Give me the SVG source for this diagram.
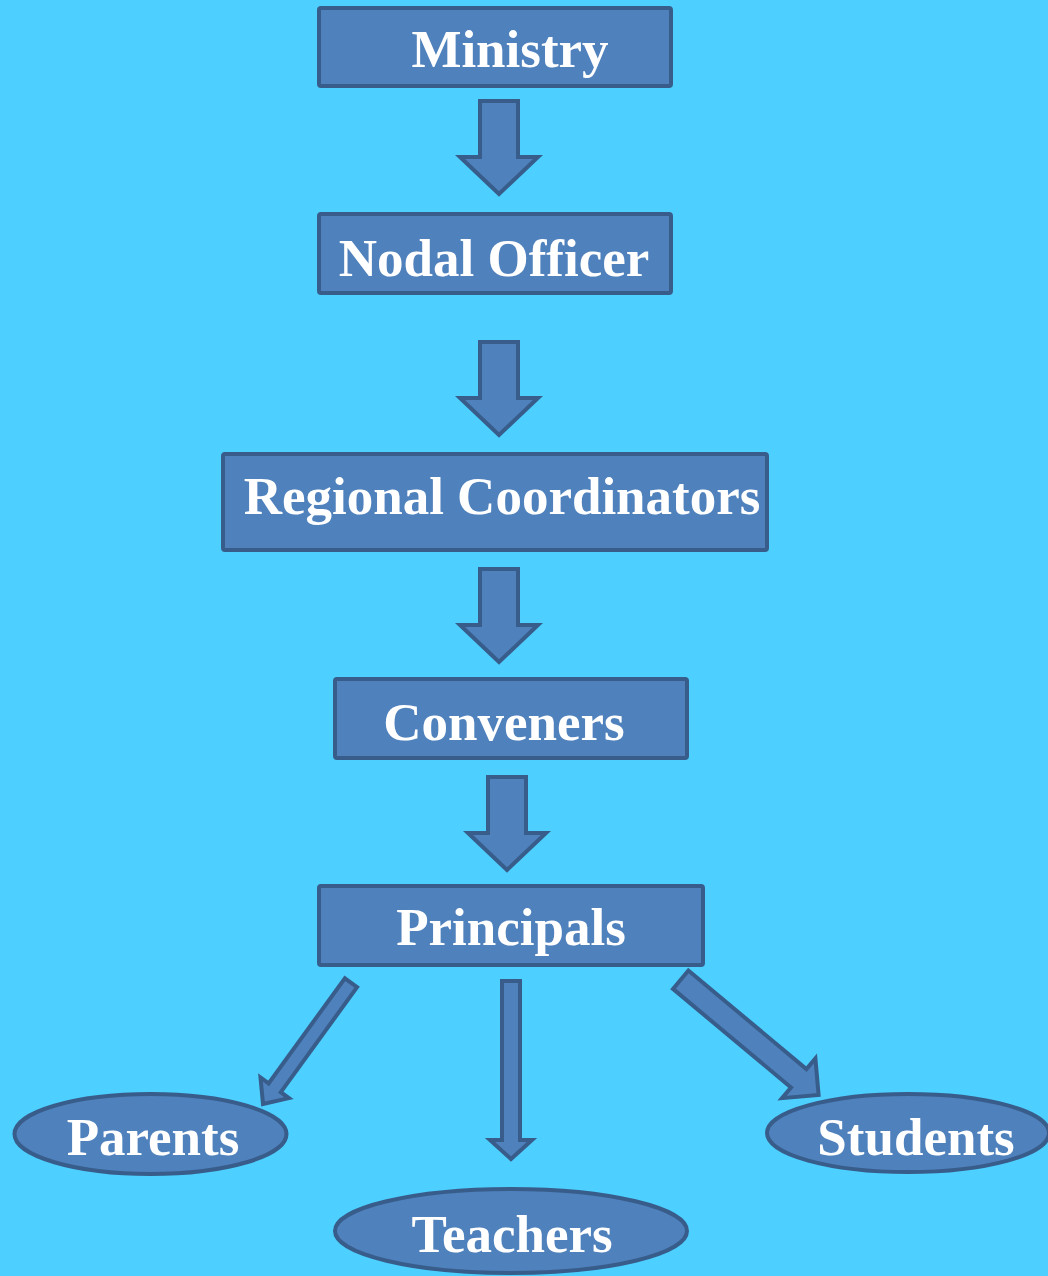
<svg xmlns="http://www.w3.org/2000/svg" width="1048" height="1276" viewBox="0 0 1048 1276">
<style>
.box{fill:#4F81BD;stroke:#385D8A;stroke-width:4}
.arr{fill:#4F81BD;stroke:#385D8A;stroke-width:4;stroke-linejoin:miter}
.lbl{font-family:"Liberation Serif","Times New Roman",serif;font-weight:bold;font-size:53px;fill:#FFFFFF;text-anchor:middle}
</style>
<defs>
<path id="down" d="M-19,0 H19 V56 H39 L0,93 L-39,56 H-19 Z"/>
</defs>
<rect x="0" y="0" width="1048" height="1276" fill="#4DCFFF"/>
<g id="connectors">
<use href="#down" class="arr" transform="translate(499,101)"/>
<use href="#down" class="arr" transform="translate(499,342)"/>
<use href="#down" class="arr" transform="translate(499,569)"/>
<use href="#down" class="arr" transform="translate(507,777)"/>
<polygon class="arr" points="357.1,987.1 280.8,1092.2 288.9,1098.1 263,1104 260.5,1077.5 268.6,1083.4 344.9,978.3"/>
<polygon class="arr" points="502,981 520,981 520,1140 532,1140 511,1159 490,1140 502,1140"/>
<polygon class="arr" points="673,988.9 791,1087.5 782,1098.2 818.6,1095 815.4,1058.4 806.4,1069.1 688.4,970.5"/>
</g>
<g id="ministry">
<rect class="box" x="319" y="8" width="352" height="78" rx="2"/>
<text class="lbl" x="510" y="67">Ministry</text>
</g>
<g id="nodal-officer">
<rect class="box" x="319" y="214" width="352" height="79" rx="2"/>
<text class="lbl" x="494" y="276">Nodal Officer</text>
</g>
<g id="regional-coordinators">
<rect class="box" x="223" y="454" width="544" height="96" rx="2"/>
<text class="lbl" x="502" y="514">Regional Coordinators</text>
</g>
<g id="conveners">
<rect class="box" x="335" y="679" width="352" height="79" rx="2"/>
<text class="lbl" x="504" y="740">Conveners</text>
</g>
<g id="principals">
<rect class="box" x="319" y="886" width="384" height="79" rx="2"/>
<text class="lbl" x="511" y="945">Principals</text>
</g>
<g id="parents">
<ellipse class="box" cx="150.5" cy="1134" rx="136" ry="40"/>
<text class="lbl" x="153" y="1155">Parents</text>
</g>
<g id="students">
<ellipse class="box" cx="908" cy="1133" rx="141" ry="39"/>
<text class="lbl" x="916" y="1155">Students</text>
</g>
<g id="teachers">
<ellipse class="box" cx="511" cy="1231" rx="176" ry="42"/>
<text class="lbl" x="512" y="1252">Teachers</text>
</g>
</svg>
